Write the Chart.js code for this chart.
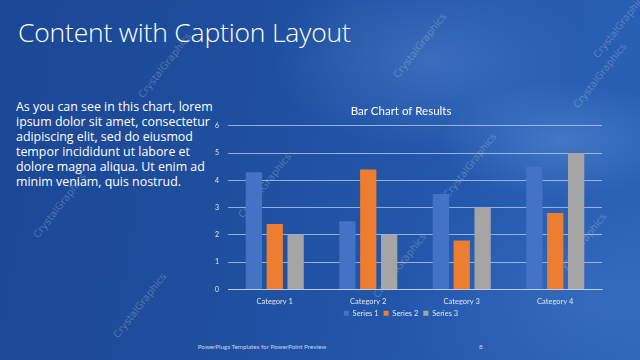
<!DOCTYPE html>
<html>
<head>
<meta charset="utf-8">
<script src="https://cdn.jsdelivr.net/npm/chart.js@4.4.0/dist/chart.umd.min.js"></script>
<style>
  html, body { margin: 0; padding: 0; }
  body { width: 640px; height: 360px; overflow: hidden; position: relative;
    background:
      radial-gradient(ellipse 120px 60px at 560px 140px, rgba(120,170,235,0.35), rgba(0,0,0,0)),
      radial-gradient(ellipse 160px 90px at 430px 60px, rgba(110,160,230,0.30), rgba(0,0,0,0)),
      radial-gradient(ellipse 200px 120px at 600px 300px, rgba(90,140,220,0.25), rgba(0,0,0,0)),
      linear-gradient(100deg, #1b4795 0%, #1f4f9f 40%, #2458ad 70%, #2a62b6 100%);
    font-family: Lato, "Open Sans", sans-serif; }
  #title { position: absolute; left: 18px; top: 14px; color: #ffffff; font-size: 26.5px;
    font-family: "Open Sans", Lato, sans-serif; font-weight: 300; white-space: nowrap; letter-spacing: -0.2px; }
  #body { position: absolute; left: 16px; top: 99px; width: 200px; color: #ffffff; font-size: 12.4px;
    line-height: 15px; font-family: "Open Sans", Lato, sans-serif; }
  #footer { position: absolute; left: 0; width: 524px; top: 343px; text-align: center; color: #c9d6ee; font-size: 6.3px; }
  #page { position: absolute; left: 479px; top: 343px; color: #c9d6ee; font-size: 6.5px; }
  .wm { position: absolute; color: rgba(190,200,215,0.35); font-size: 10px; transform: rotate(-52deg);
    white-space: nowrap; font-family: "DejaVu Sans", sans-serif; }
  #wrap { position: absolute; left: 200px; top: 95px; width: 420px; height: 232px; }
</style>
</head>
<body>
<div class="wm" style="left:125px;top:60px;">CrystalGraphics</div>
<div class="wm" style="left:380px;top:40px;">CrystalGraphics</div>
<div class="wm" style="left:560px;top:70px;">CrystalGraphics</div>
<div class="wm" style="left:580px;top:20px;">CrystalGraphics</div>
<div class="wm" style="left:225px;top:180px;">CrystalGraphics</div>
<div class="wm" style="left:20px;top:200px;">CrystalGraphics</div>
<div class="wm" style="left:430px;top:160px;">CrystalGraphics</div>
<div class="wm" style="left:360px;top:260px;">CrystalGraphics</div>
<div class="wm" style="left:540px;top:240px;">CrystalGraphics</div>
<div class="wm" style="left:100px;top:300px;">CrystalGraphics</div>
<div id="title">Content with Caption Layout</div>
<div id="body">As you can see in this chart, lorem ipsum dolor sit amet, consectetur adipiscing elit, sed do eiusmod tempor incididunt ut labore et dolore magna aliqua. Ut enim ad minim veniam, quis nostrud.</div>
<div id="footer">PowerPlugs Templates for PowerPoint Preview</div>
<div id="page">8</div>
<div id="wrap"><canvas id="c" width="420" height="232"></canvas></div>
<script>
const categories = ["Category 1", "Category 2", "Category 3", "Category 4"];
const series1 = [4.3, 2.5, 3.5, 4.5];
const series2 = [2.4, 4.4, 1.8, 2.8];
const series3 = [2, 2, 3, 5];
const seriesNames = ["Series 1", "Series 2", "Series 3"];
const yTicks = [0, 1, 2, 3, 4, 5, 6];

const colors = ["#4472C4", "#ED7D31", "#A5A5A5"];
const txt = "#dfe7f5";

new Chart(document.getElementById("c"), {
  type: "bar",
  data: {
    labels: categories,
    datasets: [series1, series2, series3].map((d, i) => ({
      label: seriesNames[i], data: d, backgroundColor: colors[i],
      categoryPercentage: 0.67, barPercentage: 0.78
    }))
  },
  options: {
    responsive: false, animation: false,
    layout: { padding: { left: 0, right: 18, top: 0, bottom: 0 } },
    plugins: {
      title: { display: true, text: "Bar Chart of Results", color: "#ffffff",
        font: { family: "Lato, 'Open Sans', sans-serif", size: 11.5, weight: "normal" }, padding: { top: 9, bottom: 8 } },
      legend: { position: "bottom",
        labels: { color: txt, boxWidth: 5, boxHeight: 5, padding: 5,
          font: { family: "Lato, sans-serif", size: 7.5 } } },
      tooltip: { enabled: false }
    },
    scales: {
      x: {
        grid: { display: false },
        border: { display: true, color: "rgba(200,215,240,0.75)" },
        ticks: { color: txt, font: { family: "Lato, sans-serif", size: 7.5 }, padding: 0 },
        afterFit: s => { s.height = 15; }
      },
      y: {
        min: 0, max: 6,
        afterBuildTicks: s => { s.ticks = yTicks.map(v => ({ value: v })); },
        grid: { color: "rgba(200,215,240,0.7)", drawTicks: false },
        border: { display: false },
        ticks: { color: txt, font: { family: "Lato, sans-serif", size: 7 }, padding: 9 },
        afterFit: s => { s.width = 28; }
      }
    }
  }
});
</script>
</body>
</html>
